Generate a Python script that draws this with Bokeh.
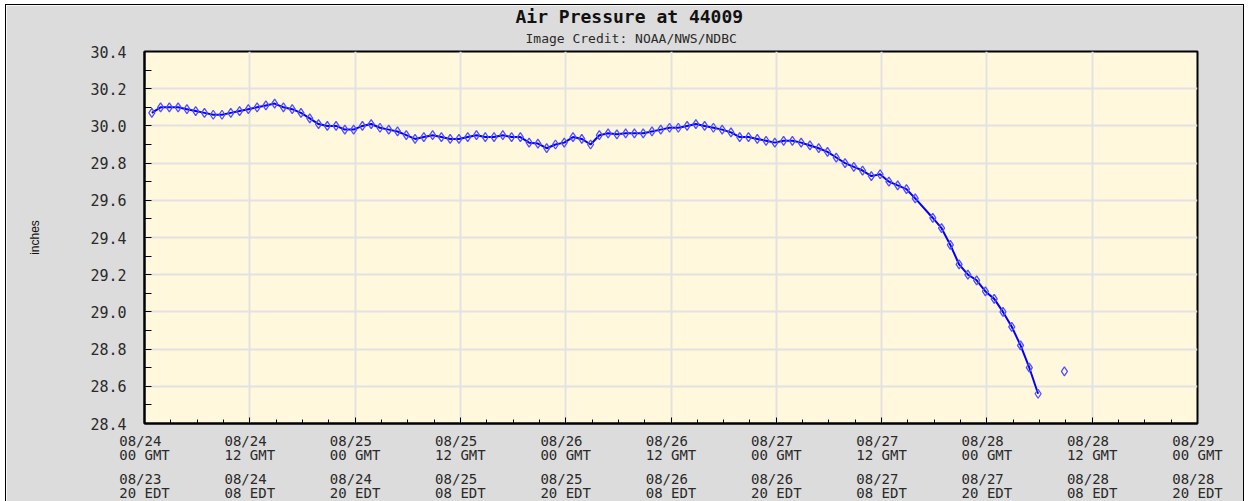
from bokeh.plotting import figure
from bokeh.models import FixedTicker, Range1d, Title, LinearAxis
from bokeh.embed import file_html
from bokeh.resources import INLINE

# ---- data (hours after 08/24 00 GMT, observations at hh:50) ----
obs_hour = [0, 1, 2, 3, 4, 5, 6, 7, 8, 9, 10, 11, 12, 13, 14, 15, 16, 17, 18, 19,
            20, 21, 22, 23, 24, 25, 26, 27, 28, 29, 30, 31, 32, 33, 34, 35, 36, 37, 38, 39,
            40, 41, 42, 43, 44, 45, 46, 47, 48, 49, 50, 51, 52, 53, 54, 55, 56, 57, 58, 59,
            60, 61, 62, 63, 64, 65, 66, 67, 68, 69, 70, 71, 72, 73, 74, 75, 76, 77, 78, 79,
            80, 81, 82, 83, 84, 85, 86, 87, 89, 90, 91, 92, 93, 94, 95, 96, 97, 98, 99,
            100, 101, 104]
obs_minute = 50
pressure_in = [30.07, 30.10, 30.10, 30.10, 30.09, 30.08, 30.07, 30.06, 30.06, 30.07,
               30.08, 30.09, 30.10, 30.11, 30.12, 30.10, 30.09, 30.07, 30.04, 30.01,
               30.00, 30.00, 29.98, 29.98, 30.00, 30.01, 29.99, 29.98, 29.97, 29.95,
               29.93, 29.94, 29.95, 29.94, 29.93, 29.93, 29.94, 29.95, 29.94, 29.94,
               29.95, 29.94, 29.94, 29.91, 29.905, 29.88, 29.90, 29.91, 29.94, 29.93,
               29.90, 29.95, 29.96, 29.955, 29.96, 29.96, 29.96, 29.97, 29.98, 29.99,
               29.99, 30.00, 30.01, 30.00, 29.99, 29.98, 29.965, 29.94, 29.94, 29.93,
               29.92, 29.91, 29.92, 29.92, 29.91, 29.895, 29.88, 29.86, 29.83, 29.80,
               29.78, 29.76, 29.73, 29.74, 29.70, 29.68, 29.66, 29.61, 29.505, 29.45,
               29.36, 29.255, 29.20, 29.17, 29.11, 29.07, 29.00, 28.92, 28.82, 28.70,
               28.56, 28.68]

x_ticks = [0, 12, 24, 36, 48, 60, 72, 84, 96, 108, 120]
x_minor = [h for h in range(0, 121, 3)]
gmt_dates = ["08/24", "08/24", "08/25", "08/25", "08/26", "08/26", "08/27", "08/27", "08/28", "08/28", "08/29"]
gmt_hours = ["00 GMT", "12 GMT", "00 GMT", "12 GMT", "00 GMT", "12 GMT", "00 GMT", "12 GMT", "00 GMT", "12 GMT", "00 GMT"]
edt_dates = ["08/23", "08/24", "08/24", "08/25", "08/25", "08/26", "08/26", "08/27", "08/27", "08/28", "08/28"]
edt_hours = ["20 EDT", "08 EDT", "20 EDT", "08 EDT", "20 EDT", "08 EDT", "20 EDT", "08 EDT", "20 EDT", "08 EDT", "20 EDT"]

y_ticks = [28.4, 28.6, 28.8, 29.0, 29.2, 29.4, 29.6, 29.8, 30.0, 30.2, 30.4]
y_minor = [28.5, 28.7, 28.9, 29.1, 29.3, 29.5, 29.7, 29.9, 30.1, 30.3]
y_labels = ["28.4", "28.6", "28.8", "29.0", "29.2", "29.4", "29.6", "29.8", "30.0", "30.2", "30.4"]

MONO = "DejaVu Sans Mono"
TXT = "#2a2a2a"

xs = [h + obs_minute / 60.0 for h in obs_hour]

# break the line where the gap is large
line_x, line_y = [], []
for i, (xv, yv) in enumerate(zip(xs, pressure_in)):
    if i > 0 and obs_hour[i] - obs_hour[i - 1] > 2:
        line_x.append(float("nan"))
        line_y.append(float("nan"))
    line_x.append(xv)
    line_y.append(yv)

p = figure(frame_width=1053, frame_height=372,
           x_range=Range1d(0, 120), y_range=Range1d(28.4, 30.4),
           output_backend="svg", toolbar_location=None,
           min_border_left=138, min_border_right=46, min_border_top=46, min_border_bottom=78,
           background_fill_color="#fff8dc", border_fill_color="#dcdcdc",
           title="Air Pressure at 44009",
           margin=(4, 0, 0, 5),
           styles={"border-left": "1px solid black", "border-top": "1px solid black",
                   "border-right": "1px solid black"})

p.title.text_font = MONO
p.title.text_font_size = "18px"
p.title.text_font_style = "bold"
p.title.text_color = "#111111"
p.title.align = "left"
p.title.offset = 371
p.title.standoff = -6

sub_title = Title(text="Image Credit: NOAA/NWS/NDBC", text_font=MONO, text_font_size="13px",
                  text_font_style="normal", text_color=TXT, align="left", offset=381, standoff=11)
p.add_layout(sub_title, "above")

p.outline_line_color = "black"
p.outline_line_width = 2

p.xgrid.grid_line_color = "#e2e2e2"
p.xgrid.grid_line_width = 2
p.ygrid.grid_line_color = "#e2e2e2"
p.ygrid.grid_line_width = 2

# x axis (GMT)
p.xaxis.ticker = FixedTicker(ticks=x_ticks, minor_ticks=x_minor)
p.xaxis.major_label_overrides = {
    t: f"{d.ljust(6)}\n{h}" for t, d, h in zip(x_ticks, gmt_dates, gmt_hours)
}
p.xaxis.major_label_text_font = MONO
p.xaxis.major_label_text_font_size = "14px"
p.xaxis.major_label_text_color = TXT
p.xaxis.major_label_text_line_height = 0.9
p.xaxis.major_label_standoff = 9
p.xaxis.major_tick_in = 6
p.xaxis.major_tick_out = 0
p.xaxis.minor_tick_in = 4
p.xaxis.minor_tick_out = 0
p.xaxis.axis_line_color = "black"
p.xaxis.axis_line_width = 2
p.xaxis.major_tick_line_color = "black"
p.xaxis.minor_tick_line_color = "black"

# second x axis (EDT labels)
edt_axis = LinearAxis(ticker=FixedTicker(ticks=x_ticks, minor_ticks=[]),
                      major_label_overrides={
                          t: f"{d.ljust(6)}\n{h}" for t, d, h in zip(x_ticks, edt_dates, edt_hours)
                      },
                      major_label_text_font=MONO, major_label_text_font_size="14px",
                      major_label_text_color=TXT, major_label_text_line_height=0.9,
                      major_label_standoff=5, major_tick_in=0, major_tick_out=0,
                      minor_tick_in=0, minor_tick_out=0, axis_line_color=None,
                      major_tick_line_color=None, minor_tick_line_color=None)
p.add_layout(edt_axis, "below")

# y axis
p.yaxis.ticker = FixedTicker(ticks=y_ticks, minor_ticks=y_minor)
p.yaxis.major_label_overrides = {t: l for t, l in zip(y_ticks, y_labels)}
p.yaxis.major_label_text_font = MONO
p.yaxis.major_label_text_font_size = "15px"
p.yaxis.major_label_text_color = TXT
p.yaxis.major_label_standoff = 18
p.yaxis.major_tick_in = 7
p.yaxis.major_tick_out = 0
p.yaxis.minor_tick_in = 7
p.yaxis.minor_tick_out = 0
p.yaxis.axis_line_color = "black"
p.yaxis.axis_line_width = 2
p.yaxis.major_tick_line_color = "black"
p.yaxis.minor_tick_line_color = "black"
p.yaxis.axis_label = "inches"
p.yaxis.axis_label_text_font = "Liberation Sans"
p.yaxis.axis_label_text_font_size = "12px"
p.yaxis.axis_label_text_font_style = "normal"
p.yaxis.axis_label_text_color = "#111111"
p.yaxis.axis_label_standoff = 45

p.line(line_x, line_y, line_color="#0000ff", line_width=2)
p.scatter(xs, pressure_in, marker="diamond", size=9, fill_color=None,
          line_color="#5050ff", line_width=1.3)

open("out.html", "w").write(file_html(p, INLINE))
